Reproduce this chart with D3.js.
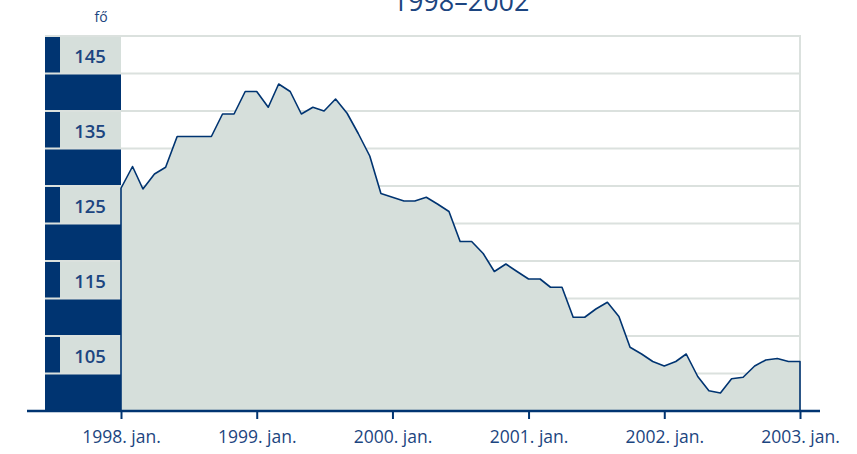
<!DOCTYPE html>
<html>
<head>
<meta charset="utf-8">
<script src="https://cdn.jsdelivr.net/npm/d3@7"></script>
<style>
	body { margin: 0; background: #fff; }
	svg { display: block; font-family: "Open Sans", sans-serif; }
</style>
</head>
<body>
<svg id="chart" width="857" height="454"></svg>
<script>
(function() {

	//VARS
	var title = '1998\u20132002';
	var unitLabel = 'f\u0151';

	// monthly values, 1998 jan .. 2003 jan
	var values = [
		127.2, 130.1, 127.1, 129.1, 130.0, 134.1, 134.1, 134.1, 134.1, 137.1,
		137.1, 140.1, 140.1, 138.0, 141.1, 140.1, 137.1, 138.0, 137.5, 139.1,
		137.2, 134.5, 131.5, 126.5, 126.0, 125.5, 125.5, 126.0, 125.1, 124.1,
		120.1, 120.1, 118.5, 116.1, 117.1, 116.1, 115.1, 115.1, 114.0, 114.0,
		110.0, 110.0, 111.1, 112.0, 110.1, 106.0, 105.1, 104.1, 103.5, 104.1,
		105.1, 102.1, 100.2, 99.9, 101.8, 102.0, 103.5, 104.3, 104.5, 104.1,
		104.1
	];
	var yTicks = [105, 115, 125, 135, 145];
	var yDomain = [97.5, 147.5];
	var tickYears = [1998, 1999, 2000, 2001, 2002, 2003];

	var navy = '#003471';
	var textColor = '#1c4580';
	var fillColor = '#d6dfdb';
	var gridColor = '#dbe1de';

	var margin = { top: 36, right: 57, bottom: 43, left: 121 };
	var svg = d3.select('#chart');
	var W = +svg.attr('width'), H = +svg.attr('height');
	var width = W - margin.left - margin.right;
	var height = H - margin.top - margin.bottom;

	var data = values.map(function(v, i) {
		return { date: new Date(1998, i, 1), value: v };
	});

	var x = d3.scaleTime()
		.domain(d3.extent(data, function(d) { return d.date; }))
		.range([margin.left, margin.left + width]);
	var y = d3.scaleLinear()
		.domain(yDomain)
		.range([margin.top + height, margin.top]);

	// left strip: dark column with light label boxes
	svg.append('rect')
		.attr('x', 45).attr('y', y(yDomain[1]))
		.attr('width', margin.left - 45)
		.attr('height', y(yDomain[0]) - y(yDomain[1]))
		.attr('fill', navy);

	svg.selectAll('.label-box')
		.data(yTicks)
		.enter().append('rect')
		.attr('class', 'label-box')
		.attr('x', 60)
		.attr('y', function(d) { return y(d + 2.5); })
		.attr('width', margin.left - 60)
		.attr('height', function(d) { return y(d - 2.5) - y(d + 2.5); })
		.attr('fill', fillColor);

	// gridlines at band edges
	var gridVals = [];
	yTicks.forEach(function(t) { gridVals.push(t - 2.5, t + 2.5); });
	svg.selectAll('.grid')
		.data(gridVals.filter(function(d) { return d > yDomain[0]; }))
		.enter().append('line')
		.attr('class', 'grid')
		.attr('x1', 45).attr('x2', margin.left + width)
		.attr('y1', function(d) { return y(d); })
		.attr('y2', function(d) { return y(d); })
		.attr('stroke', gridColor)
		.attr('stroke-width', 2);

	svg.append('line')
		.attr('x1', margin.left + width).attr('x2', margin.left + width)
		.attr('y1', y(yDomain[1]) - 1).attr('y2', y(yDomain[0]))
		.attr('stroke', gridColor)
		.attr('stroke-width', 2);

	// area + outline
	var area = d3.area()
		.x(function(d) { return x(d.date); })
		.y0(y(yDomain[0]))
		.y1(function(d) { return y(d.value); });

	svg.append('path')
		.datum(data)
		.attr('d', area)
		.attr('fill', fillColor)
		.attr('stroke', navy)
		.attr('stroke-width', 1.6)
		.attr('stroke-linejoin', 'round');

	// y labels
	svg.selectAll('.ylabel')
		.data(yTicks)
		.enter().append('text')
		.attr('class', 'ylabel')
		.attr('x', 90)
		.attr('y', function(d) { return y(d); })
		.attr('dy', '0.42em')
		.attr('text-anchor', 'middle')
		.attr('font-size', 18.5)
		.attr('font-weight', 600)
		.attr('fill', textColor)
		.text(function(d) { return d; });

	// x axis
	var axisX = d3.axisBottom(x)
		.tickValues(tickYears.map(function(yr) { return new Date(yr, 0, 1); }))
		.tickSize(8)
		.tickPadding(12)
		.tickFormat(function(d) { return d.getFullYear() + '. jan.'; });

	var gx = svg.append('g')
		.attr('class', 'axis axis--x')
		.attr('transform', 'translate(0,' + y(yDomain[0]) + ')')
		.call(axisX);

	gx.select('.domain').remove();
	gx.selectAll('.tick line')
		.attr('stroke', navy)
		.attr('stroke-width', 2);
	gx.selectAll('.tick text')
		.attr('fill', textColor)
		.attr('font-size', 17.5)
		.attr('font-family', '"Open Sans", sans-serif');

	svg.append('line')
		.attr('x1', 27).attr('x2', 820)
		.attr('y1', y(yDomain[0])).attr('y2', y(yDomain[0]))
		.attr('stroke', navy)
		.attr('stroke-width', 2.5);

	// title + unit
	svg.append('text')
		.attr('x', 461).attr('y', 11)
		.attr('text-anchor', 'middle')
		.attr('font-size', 27)
		.attr('fill', textColor)
		.text(title);

	svg.append('text')
		.attr('x', 101).attr('y', 22)
		.attr('text-anchor', 'middle')
		.attr('font-size', 14)
		.attr('fill', textColor)
		.text(unitLabel);

})()
</script>
</body>
</html>
